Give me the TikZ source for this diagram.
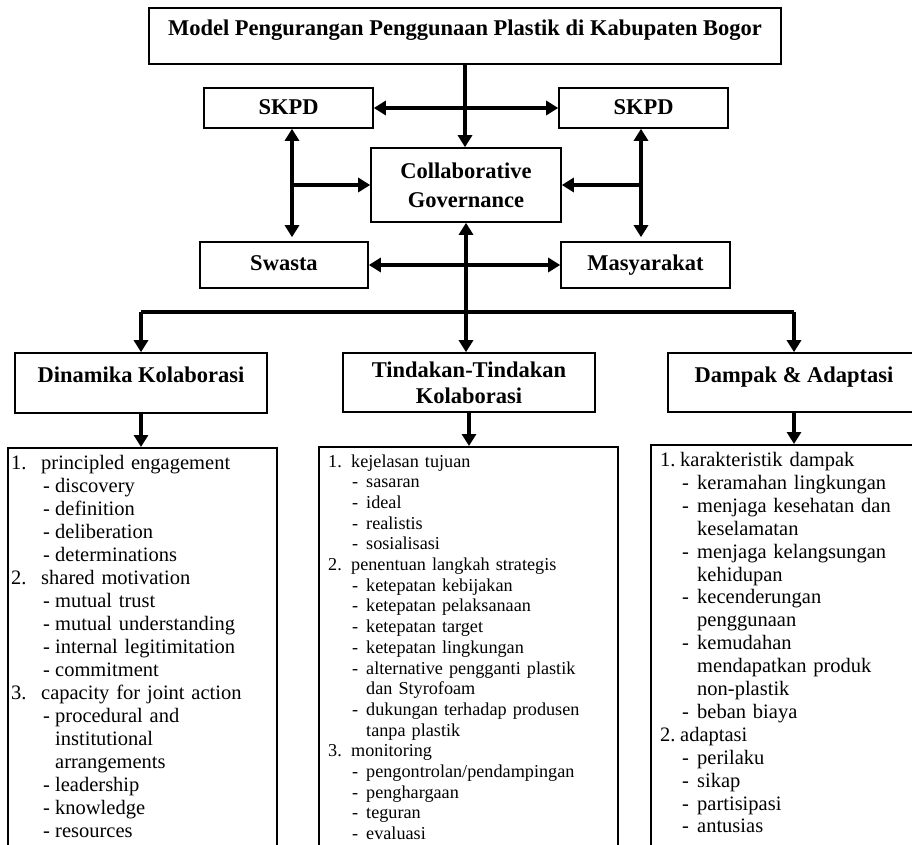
\documentclass[tikz,border=0pt]{standalone}
\usepackage{fontspec}
\setmainfont{Liberation Serif}
\usetikzlibrary{arrows.meta}

% list layout: width of number, indent of dash, width of dash
\newlength{\numw}\newlength{\subw}\newlength{\dashw}
\newcommand{\listset}[3]{\setlength{\numw}{#1pt}\setlength{\subw}{#2pt}\setlength{\dashw}{#3pt}}
\newcommand{\lnum}[2]{\makebox[\numw][l]{#1}#2}
\newcommand{\ldash}[1]{\hspace*{\subw}\makebox[\dashw][l]{-}#1}
\newcommand{\lcont}[1]{\hspace*{\subw}\hspace*{\dashw}#1}

\begin{document}
\begin{tikzpicture}[x=1pt, y=-1pt,
  hd/.style={rectangle, draw=black, line width=1.6pt, inner sep=0pt, align=center,
             font=\bfseries\fontsize{22.5}{27}\selectfont},
  oneline/.style={text height=15pt, text depth=5pt},
  lbox/.style={rectangle, draw=black, line width=1.6pt, inner sep=0pt, anchor=north,
               minimum height=430pt},
  ltext/.style={inner sep=0pt, anchor=base west, align=left, text width=#1},
  arr/.style={-{Triangle[length=12pt,width=14pt]}, line width=4.8pt},
  darr/.style={{Triangle[length=12pt,width=14pt]}-{Triangle[length=12pt,width=14pt]}, line width=4.8pt},
  bar/.style={line width=3.5pt}
]
\useasboundingbox (0,0) rectangle (912,845);
\clip (0,0) rectangle (912,845);

% ── upper part ───────────────────────────────────────────────────────────────
\node[hd, minimum width=632pt, text height=27.5pt, text depth=28.5pt] (title) at (465,36)
  {Model Pengurangan Penggunaan Plastik di Kabupaten Bogor};
\node[hd, text height=17pt, text depth=3pt, minimum width=169pt, minimum height=40pt] (skL) at (288.5,108) {SKPD};
\node[hd, text height=17pt, text depth=3pt, minimum width=169pt, minimum height=40pt] (skR) at (643.5,108) {SKPD};
\node[hd, minimum width=190pt, minimum height=74pt,
      font=\bfseries\fontsize{22.5}{29}\selectfont] (cg) at (466,185)
  {Collaborative\\Governance};
\node[hd, oneline, minimum width=168pt, minimum height=46pt] (sw) at (284,265) {Swasta};
\node[hd, oneline, minimum width=169pt, minimum height=46pt] (ms) at (645.5,265) {Masyarakat};

\coordinate (lx) at (292,0);
\coordinate (rx) at (641,0);
\coordinate (jn) at (466,312);

\draw[arr] (title.south) -- (title.south |- cg.north);
\draw[darr] (skL.east) -- (skR.west);
\draw[darr] (skL.south -| lx) -- ([yshift=4pt]sw.north -| lx);
\draw[arr] (lx |- cg.west) -- (cg.west);
\draw[darr] (skR.south -| rx) -- ([yshift=4pt]ms.north -| rx);
\draw[arr] (rx |- cg.east) -- (cg.east);
\draw[darr] (sw.east) -- (ms.west);

% ── three branches ───────────────────────────────────────────────────────────
\node[hd, minimum width=252pt, text height=29pt, text depth=31pt] (dk) at (141,383)
  {Dinamika Kolaborasi};
\node[hd, minimum width=252pt, minimum height=59pt,
      font=\bfseries\fontsize{22.5}{26}\selectfont] (tk) at (469,382.5)
  {Tindakan-Tindakan\\Kolaborasi};
\node[hd, minimum width=252pt, text height=29pt, text depth=30pt] (da) at (794,382.5)
  {Dampak \& Adaptasi};

\draw[darr] (cg.south) -- (cg.south |- tk.north);
\draw[bar] (dk.north |- jn) -- (da.north |- jn);
\draw[arr] (dk.north |- jn) -- (dk.north);
\draw[arr] (da.north |- jn) -- (da.north);

% ── lists ────────────────────────────────────────────────────────────────────
\node[lbox, minimum width=269pt] (l1) at (142.5,447) {};
\node[lbox, minimum width=299pt] (l2) at (468.5,446) {};
\node[lbox, minimum width=286pt] (l3) at (794,444) {};

\draw[arr] (dk.south) -- (dk.south |- l1.north);
\draw[arr] (tk.south) -- (tk.south |- l2.north);
\draw[arr] (da.south) -- (da.south |- l3.north);

\node[ltext=262pt, font=\fontsize{20.5}{23}\selectfont] (t1) at (11,469.5) {\listset{30}{32}{12}%
  \lnum{1.}{principled engagement}\\
  \ldash{discovery}\\
  \ldash{definition}\\
  \ldash{deliberation}\\
  \ldash{determinations}\\
  \lnum{2.}{shared motivation}\\
  \ldash{mutual trust}\\
  \ldash{mutual understanding}\\
  \ldash{internal legitimitation}\\
  \ldash{commitment}\\
  \lnum{3.}{capacity for joint action}\\
  \ldash{procedural and}\\
  \lcont{institutional}\\
  \lcont{arrangements}\\
  \ldash{leadership}\\
  \ldash{knowledge}\\
  \ldash{resources}};

\node[ltext=288pt, font=\fontsize{18.2}{20.7}\selectfont] (t2) at (328,467) {\listset{23}{24}{14}%
  \lnum{1.}{kejelasan tujuan}\\
  \ldash{sasaran}\\
  \ldash{ideal}\\
  \ldash{realistis}\\
  \ldash{sosialisasi}\\
  \lnum{2.}{penentuan langkah strategis}\\
  \ldash{ketepatan kebijakan}\\
  \ldash{ketepatan pelaksanaan}\\
  \ldash{ketepatan target}\\
  \ldash{ketepatan lingkungan}\\
  \ldash{alternative pengganti plastik}\\
  \lcont{dan Styrofoam}\\
  \ldash{dukungan terhadap produsen}\\
  \lcont{tanpa plastik}\\
  \lnum{3.}{monitoring}\\
  \ldash{pengontrolan/pendampingan}\\
  \ldash{penghargaan}\\
  \ldash{teguran}\\
  \ldash{evaluasi}};

\node[ltext=250pt, font=\fontsize{20.5}{22.9}\selectfont] (t3) at (660,466.5) {\listset{20}{22}{15}%
  \lnum{1.}{karakteristik dampak}\\
  \ldash{keramahan lingkungan}\\
  \ldash{menjaga kesehatan dan}\\
  \lcont{keselamatan}\\
  \ldash{menjaga kelangsungan}\\
  \lcont{kehidupan}\\
  \ldash{kecenderungan}\\
  \lcont{penggunaan}\\
  \ldash{kemudahan}\\
  \lcont{mendapatkan produk}\\
  \lcont{non-plastik}\\
  \ldash{beban biaya}\\
  \lnum{2.}{adaptasi}\\
  \ldash{perilaku}\\
  \ldash{sikap}\\
  \ldash{partisipasi}\\
  \ldash{antusias}};
\end{tikzpicture}
\end{document}
